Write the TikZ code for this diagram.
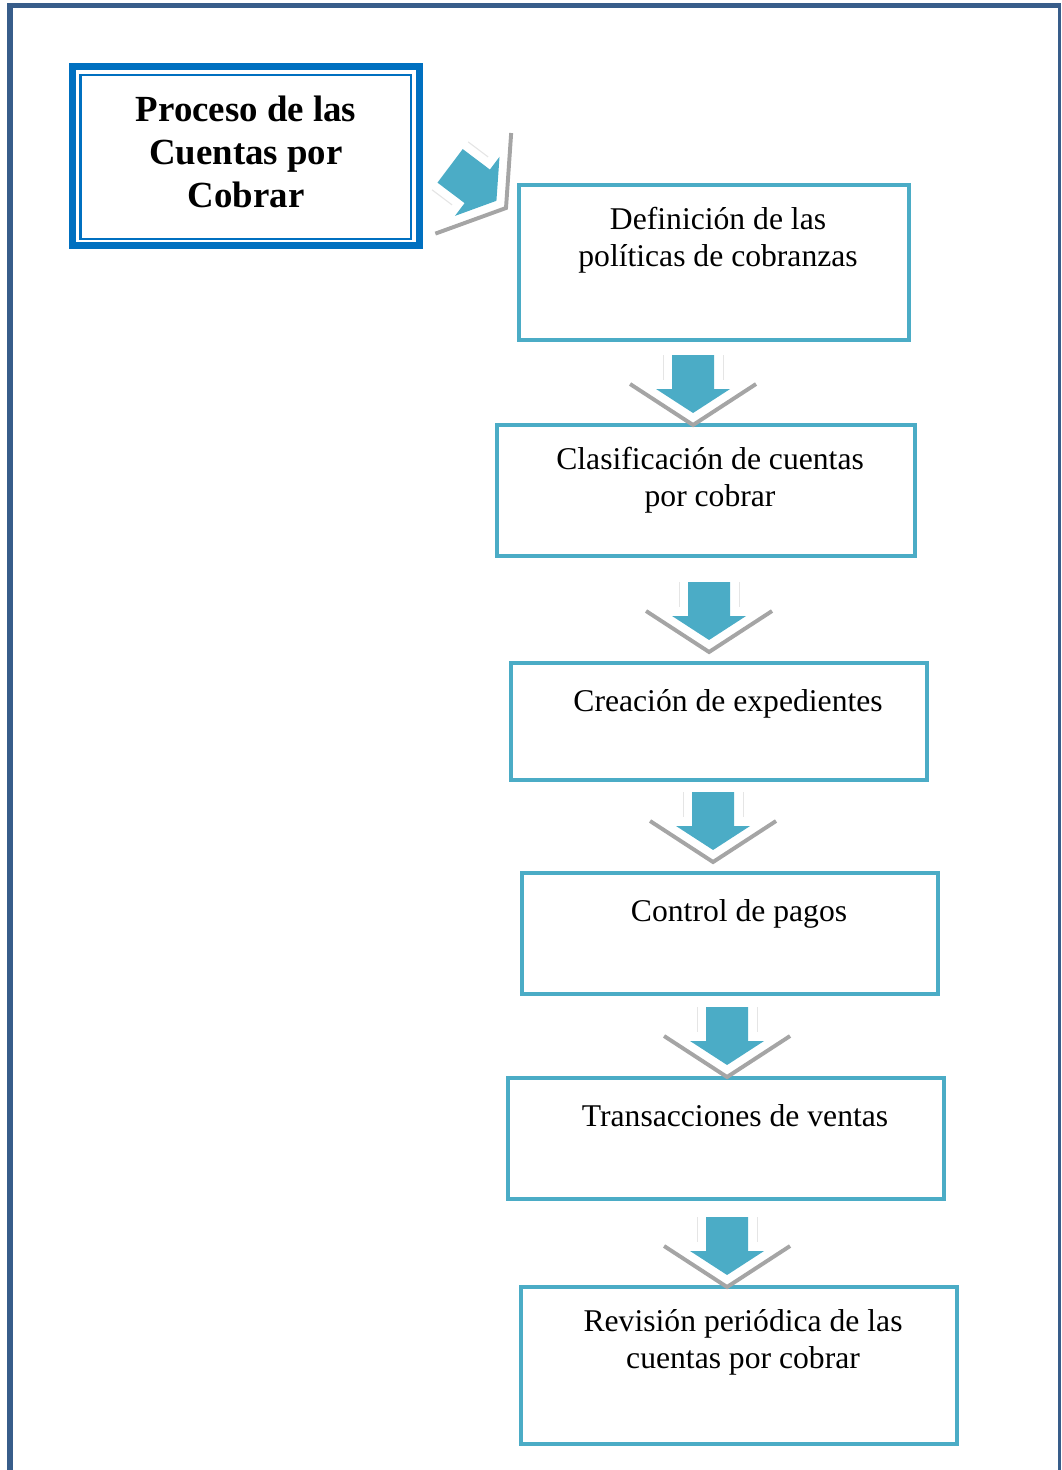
\documentclass[tikz,border=0pt]{standalone}
\usepackage{fontspec}
\setmainfont{Liberation Serif}
\usetikzlibrary{calc}

\definecolor{azul}{HTML}{4BACC6}
\definecolor{azultit}{HTML}{0070C0}
\definecolor{marco}{HTML}{385D8A}
\definecolor{gris}{HTML}{A5A5A5}

\tikzset{
  caja/.style={draw=azul, line width=2.9pt, anchor=north west, inner sep=0pt, outer sep=0pt},
  texto/.style={anchor=north, align=center, inner sep=0pt,
    font=\fontsize{22.5}{26.2}\selectfont, execute at begin node=\strut},
  flecha/.pic={
    \draw[gris, line width=2.8pt] (-63,-41) -- (0,0) -- (63,-41);
    \draw[gray!20, line width=0.8pt] (-30,-70) -- (-30,-45) (30,-70) -- (30,-45);
    \fill[azul] (-21,-70) -- (21,-70) -- (21,-36) -- (37,-36) -- (0,-12)
      -- (-37,-36) -- (-21,-36) -- cycle;
  }
}

\begin{document}
\begin{tikzpicture}[x=0.025cm, y=-0.025cm]
\useasboundingbox (0,0) rectangle (1061,1470);

% marco de la pagina
\draw[marco, line width=4pt] (10,1470) -- (10,5.5) -- (1061,5.5);
\draw[marco, line width=1.8pt] (1059.5,5.5) -- (1059.5,1470);

% titulo
\node[draw=azultit, line width=4.6pt, anchor=north west, outer sep=0pt,
  minimum width=8.675cm, minimum height=4.475cm] (tit) at (72.5,66.5) {};
\draw[azultit, line width=1.5pt] ($(tit.north west)+(8,8.5)$) rectangle ($(tit.south east)+(-8.5,-6.5)$);
\node[align=center, font=\fontsize{26.2}{30.5}\selectfont\bfseries] (ttit)
  at ($(tit.center)+(0,-4.5)$) {Proceso de las\\Cuentas por\\Cobrar};

% cajas del proceso
\node[caja, minimum width=9.75cm, minimum height=3.875cm] (c1) at (519,185) {};
\node[caja, minimum width=10.45cm, minimum height=3.275cm] (c2) at (497,425) {};
\node[caja, minimum width=10.4cm, minimum height=2.925cm] (c3) at (511,663) {};
\node[caja, minimum width=10.4cm, minimum height=3.025cm] (c4) at (522,873) {};
\node[caja, minimum width=10.9cm, minimum height=3.025cm] (c5) at (508,1078) {};
\node[caja, minimum width=10.9cm, minimum height=3.925cm] (c6) at (521,1287) {};

\node[texto] (t1) at ($(c1.north)+(4,22)$) {Definición de las\\políticas de cobranzas};
\node[texto] (t2) at ($(c2.north)+(4,22)$) {Clasificación de cuentas\\por cobrar};
\node[texto] (t3) at ($(c3.north)+(9,22)$) {Creación de expedientes};
\node[texto] (t4) at ($(c4.north)+(9,22)$) {Control de pagos};
\node[texto] (t5) at ($(c5.north)+(9,22)$) {Transacciones de ventas};
\node[texto] (t6) at ($(c6.north)+(4,22)$) {Revisión periódica de las\\cuentas por cobrar};

% flechas
\pic[rotate=53] at (506,208) {flecha};
\pic at ($(c2.north)+(-13,0)$) {flecha};
\pic at ($(c3.north)+(-10,-11)$) {flecha};
\pic at ($(c4.north)+(-17,-11)$) {flecha};
\pic at ($(c5.north)+(1,-1)$) {flecha};
\pic at ($(c6.north)+(-12,0)$) {flecha};
\end{tikzpicture}
\end{document}
